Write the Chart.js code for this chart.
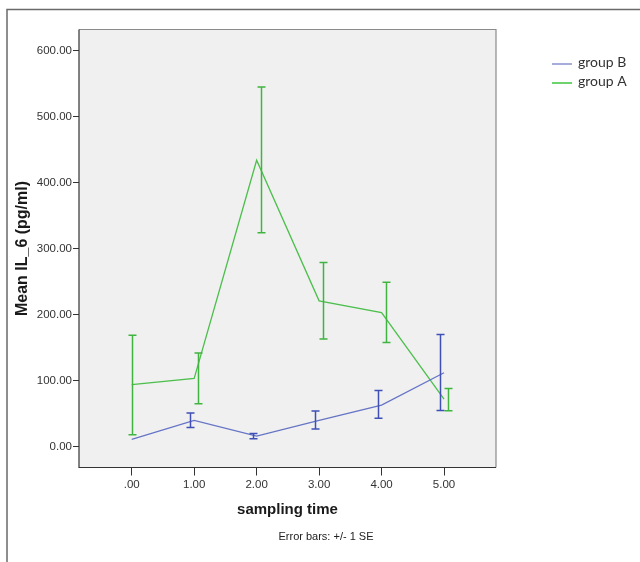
<!DOCTYPE html>
<html>
<head>
<meta charset="utf-8">
<title>Mean IL_6 by sampling time</title>
<script src="https://cdn.jsdelivr.net/npm/chart.js@4/dist/chart.umd.min.js"></script>
<style>
  html, body { margin: 0; padding: 0; background: #fff; }
  #wrap { position: relative; width: 640px; height: 562px; }
</style>
</head>
<body>
<div id="wrap"><canvas id="chart" width="640" height="562"></canvas></div>
<script>
// ── Data (error bars = +/- 1 SE) ──────────────────────────────────────────────
var sampleTimes  = [0, 1, 2, 3, 4, 5];
var xTickLabels  = ['.00', '1.00', '2.00', '3.00', '4.00', '5.00'];
var yTickValues  = [0, 100, 200, 300, 400, 500, 600];
var yTickLabels  = ['0.00', '100.00', '200.00', '300.00', '400.00', '500.00', '600.00'];

var groupBMean = [11, 40, 16, 40, 63, 112];
var groupBLow  = [null, 29, 12, 27, 43, 55];
var groupBHigh = [null, 51, 20, 54, 85, 170];

var groupAMean = [94, 103.5, 434, 221, 203, 72];
var groupALow  = [18, 65, 324, 163, 158, 54.5];
var groupAHigh = [169, 142, 545, 279, 249, 88];

(function () {
  'use strict';

  var BLUE_LINE  = '#6674c6', BLUE_BAR  = '#3f4fb6';
  var GREEN_LINE = '#4cbf4c', GREEN_BAR = '#40b340';
  var FONT = '"Liberation Sans", Arial, sans-serif';

  function pts(means) {
    return sampleTimes.map(function (t, i) { return { x: t, y: means[i] }; });
  }

  // ── plot panel, frame, error bars, legend ─────────────────────────────────
  var spssDecor = {
    id: 'spssDecor',
    beforeDraw: function (chart) {
      var c = chart.ctx, a = chart.chartArea;
      c.save();
      // outer frame (left + top only, like the exported figure)
      c.strokeStyle = '#6a6a6a';
      c.lineWidth = 1.5;
      c.beginPath();
      c.moveTo(7, 562); c.lineTo(7, 9.5); c.lineTo(640, 9.5);
      c.stroke();
      // grey plot panel
      c.fillStyle = '#eff0ef';
      c.fillRect(a.left, a.top, a.right - a.left, a.bottom - a.top);
      c.restore();
    },
    afterDatasetsDraw: function (chart) {
      var c = chart.ctx;
      var xs = chart.scales.x, ys = chart.scales.y;
      // bars are dodged sideways only where the other group also has one
      function bars(low, high, otherLow, dodge, color) {
        c.strokeStyle = color;
        c.lineWidth = 1.5;
        sampleTimes.forEach(function (t, i) {
          if (low[i] == null || high[i] == null) return;
          var dx = otherLow[i] == null ? 0 : dodge;
          var x = Math.round(xs.getPixelForValue(t + dx)) + 0.5;
          var y1 = ys.getPixelForValue(low[i]);
          var y2 = ys.getPixelForValue(high[i]);
          c.beginPath();
          c.moveTo(x, y1); c.lineTo(x, y2);
          c.moveTo(x - 4, y1); c.lineTo(x + 4, y1);
          c.moveTo(x - 4, y2); c.lineTo(x + 4, y2);
          c.stroke();
        });
      }
      c.save();
      bars(groupBLow, groupBHigh, groupALow, -0.065, BLUE_BAR);
      bars(groupALow, groupAHigh, groupBLow, 0.065, GREEN_BAR);
      c.restore();
    },
    afterDraw: function (chart) {
      var c = chart.ctx, a = chart.chartArea;
      c.save();
      // panel border
      c.lineWidth = 1.2;
      c.strokeStyle = '#8a8a8a';
      c.beginPath();
      c.moveTo(a.left, a.top); c.lineTo(a.right, a.top); c.lineTo(a.right, a.bottom);
      c.stroke();
      c.strokeStyle = '#333';
      c.beginPath();
      c.moveTo(a.left, a.top); c.lineTo(a.left, a.bottom); c.lineTo(a.right, a.bottom);
      c.stroke();

      // footnote
      c.fillStyle = '#222';
      c.font = '11px ' + FONT;
      c.textAlign = 'center';
      c.textBaseline = 'middle';
      c.fillText('Error bars: +/- 1 SE', 326, 537);

      // legend
      var items = [
        { label: 'group B', color: '#8892d2', y: 62 },
        { label: 'group A', color: '#3cc43c', y: 81 }
      ];
      c.font = '14px Lato, "Open Sans", sans-serif';
      c.textAlign = 'left';
      items.forEach(function (it) {
        c.strokeStyle = it.color;
        c.lineWidth = 1.5;
        c.beginPath();
        c.moveTo(552, it.y + 2); c.lineTo(572, it.y + 2);
        c.stroke();
        c.fillStyle = '#333';
        c.fillText(it.label, 578, it.y);
      });
      c.restore();
    }
  };

  new Chart(document.getElementById('chart').getContext('2d'), {
    type: 'line',
    data: {
      datasets: [
        { label: 'group B', data: pts(groupBMean), borderColor: BLUE_LINE,
          borderWidth: 1.3, pointRadius: 0, tension: 0, fill: false },
        { label: 'group A', data: pts(groupAMean), borderColor: GREEN_LINE,
          borderWidth: 1.3, pointRadius: 0, tension: 0, fill: false }
      ]
    },
    options: {
      responsive: false,
      animation: false,
      layout: { padding: { left: 0, top: 29.5, right: 144, bottom: 42.5 } },
      plugins: { legend: { display: false }, tooltip: { enabled: false } },
      scales: {
        x: {
          type: 'linear',
          min: -0.844, max: 5.832,
          afterBuildTicks: function (s) { s.ticks = sampleTimes.map(function (v) { return { value: v }; }); },
          afterFit: function (s) { s.height = 52; },
          ticks: {
            color: '#333', font: { family: FONT, size: 11.5 }, padding: 2,
            maxRotation: 0, autoSkip: false,
            callback: function (v) { return xTickLabels[sampleTimes.indexOf(v)]; }
          },
          grid: { drawOnChartArea: false, drawTicks: true, tickLength: 8, color: '#333' },
          border: { display: false },
          title: { display: true, text: 'sampling time', color: '#1a1a1a',
                   font: { family: FONT, size: 15, weight: 'bold' }, padding: { top: 0, bottom: 1 } }
        },
        y: {
          min: -31.5, max: 632,
          afterBuildTicks: function (s) { s.ticks = yTickValues.map(function (v) { return { value: v }; }); },
          afterFit: function (s) { s.width = 79; },
          ticks: {
            color: '#333', font: { family: FONT, size: 11.5 }, padding: 1, autoSkip: false,
            callback: function (v) { return yTickLabels[yTickValues.indexOf(v)]; }
          },
          grid: { drawOnChartArea: false, drawTicks: true, tickLength: 6, color: '#333' },
          border: { display: false },
          title: { display: true, text: 'Mean IL_6 (pg/ml)', color: '#1a1a1a',
                   font: { family: FONT, size: 16, weight: 'bold' }, padding: { top: 13, bottom: 0 } }
        }
      }
    },
    plugins: [spssDecor]
  });
})();
</script>
</body>
</html>
